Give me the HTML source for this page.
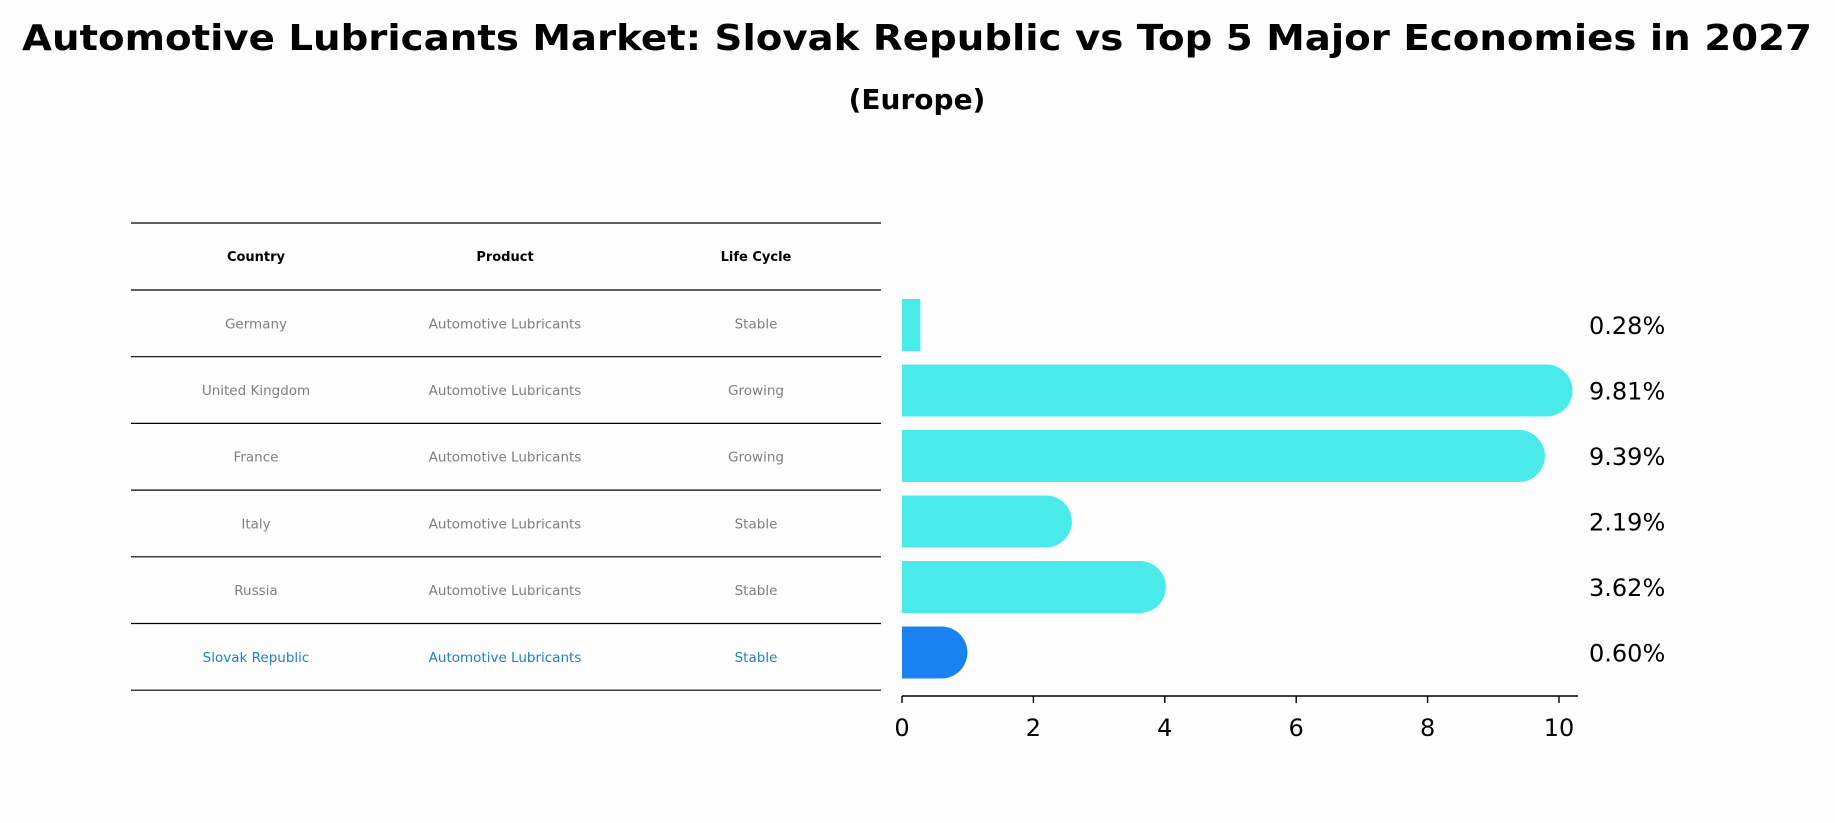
<!DOCTYPE html>
<html><head><meta charset="utf-8"><style>
body{margin:0;background:#fdfdfd;}
svg{display:block;font-family:"DejaVu Sans","Liberation Sans",sans-serif;}
</style></head><body>
<svg id="chart" width="1835" height="823" viewBox="0 0 1835 823">
<rect width="1835" height="823" fill="#fdfdfd"/>
<text x="917" y="50" text-anchor="middle" font-size="36" font-weight="bold" textLength="1790" lengthAdjust="spacingAndGlyphs">Automotive Lubricants Market: Slovak Republic vs Top 5 Major Economies in 2027</text>
<text x="917" y="109" text-anchor="middle" font-size="28" font-weight="bold">(Europe)</text>
<g id="table"></g>
<g id="bars"></g>
</svg>
<script>
const countries=["Germany","United Kingdom","France","Italy","Russia","Slovak Republic"];
const products=["Automotive Lubricants","Automotive Lubricants","Automotive Lubricants","Automotive Lubricants","Automotive Lubricants","Automotive Lubricants"];
const lifeCycles=["Stable","Growing","Growing","Stable","Stable","Stable"];
const values=[0.28,9.81,9.39,2.19,3.62,0.60];
const valueLabels=["0.28%","9.81%","9.39%","2.19%","3.62%","0.60%"];
const xTicks=[0,2,4,6,8,10];

const NS="http://www.w3.org/2000/svg";
function mk(tag,attrs,parent){const e=document.createElementNS(NS,tag);for(const k in attrs)e.setAttribute(k,attrs[k]);parent.appendChild(e);return e;}
const x0=902, pxPerUnit=65.7;
function xs(v){return x0+v*pxPerUnit;}
const rowStep=65.5, firstCenter=325, barH=52;
function ys(i){return firstCenter+i*rowStep;}

// table
const tbl=document.getElementById('table');
const lineYs=[223,290];
for(let i=0;i<countries.length;i++)lineYs.push(290+(i+1)*66.7);
const colX=[256,505,756];
lineYs.forEach((y,i)=>{
  const l=mk('line',{x1:131,x2:881,y1:y,y2:y,stroke:'#000','stroke-width':1.2},tbl);
  
  
});
["Country","Product","Life Cycle"].forEach((h,j)=>{
  const t=mk('text',{x:colX[j],y:261,'text-anchor':'middle','font-size':13,'font-weight':'bold'},tbl);
  t.textContent=h;
  
  
});
countries.forEach((c,i)=>{
  const y=290+66.7*i+33.3+5;
  const col=i===countries.length-1?'#1f7fd0':'#808080';
  [c,products[i],lifeCycles[i]].forEach((s,j)=>{
    const t=mk('text',{x:colX[j],y:y,'text-anchor':'middle','font-size':13.5,fill:col},tbl);
    t.textContent=s;
    
    
  });
});

// bars
const g=document.getElementById('bars');
values.forEach((v,i)=>{
  const col=i===values.length-1?'#1a82f0':'#4aeaea';
  const cy=ys(i), r=barH/2;
  let d;
  if(v>0.5){
    d=`M${x0},${cy-r} H${xs(v)} A${r},${r} 0 0 1 ${xs(v)},${cy+r} H${x0} Z`;
  } else {
    d=`M${x0},${cy-r} H${xs(v)} V${cy+r} H${x0} Z`;
  }
  const p=mk('path',{d:d,fill:col},g);
  
  
  const t=mk('text',{x:1589,y:cy+9,'font-size':24},g);
  t.textContent=valueLabels[i];
  
  
});
const ax=mk('line',{x1:x0,x2:1578,y1:696,y2:696,stroke:'#000','stroke-width':1.6},g);


xTicks.forEach(v=>{
  const tk=mk('line',{x1:xs(v),x2:xs(v),y1:696,y2:703,stroke:'#000','stroke-width':1.4},g);
  
  
  const t=mk('text',{x:xs(v),y:736,'text-anchor':'middle','font-size':24},g);
  t.textContent=v;
  
  
});
</script>
</body></html>
